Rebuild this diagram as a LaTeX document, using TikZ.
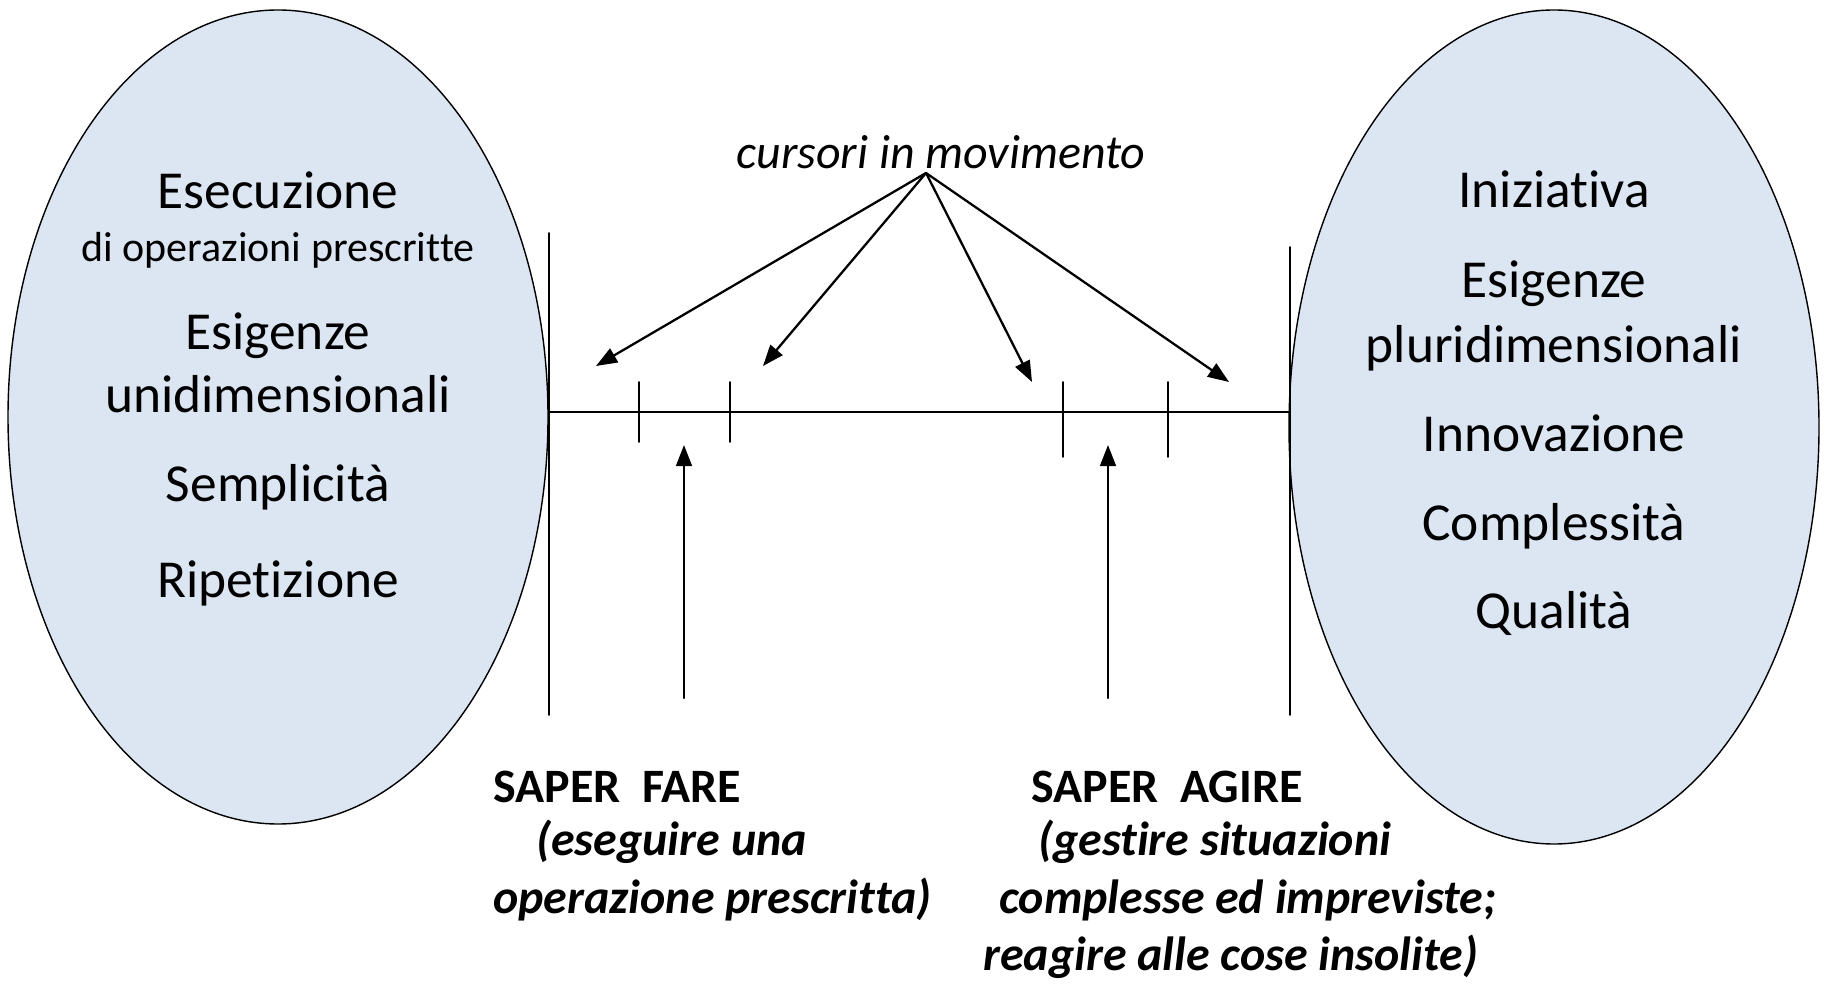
\documentclass[tikz,border=0pt]{standalone}
\usepackage{fontspec}
\setmainfont[Ligatures=NoCommon]{Carlito}
\usepackage{tkz-euclide}
\usetikzlibrary{arrows.meta,calc}
\definecolor{OvalClr}{RGB}{220,230,242}
\newcommand\ovalbig{\fontsize{30.4pt}{36pt}\selectfont}
\newcommand\ovalsmall{\fontsize{23.9pt}{28pt}\selectfont}
\newcommand\notesize{\fontsize{27.3pt}{33pt}\selectfont}

\begin{document}
\begin{tikzpicture}[x=0.02cm,y=0.02cm,
  ovaltxt/.style={anchor=base,inner sep=0pt,font=\ovalbig},
  ovalsub/.style={anchor=base,inner sep=0pt,font=\ovalsmall},
  sapertxt/.style={anchor=base west,inner sep=0pt,font=\notesize\bfseries},
  notetxt/.style={anchor=base west,inner sep=0pt,font=\notesize\bfseries\itshape}]
\useasboundingbox (0,0) rectangle (1825,984);
\tkzSetUpLine[line width=1pt,color=black]

% the two poles
\filldraw[fill=OvalClr,line width=0.8pt] (278,567) ellipse [x radius=270,y radius=407];
\filldraw[fill=OvalClr,line width=0.8pt] (1554,557) ellipse [x radius=265,y radius=417];

\tkzDefPoints{549/572/L,1290/572/R,549/751/La,549/269/Lb,1290/737/Ra,1290/269/Rb}
\tkzDefPoints{639/602/F1,639/542/F1b,730/602/F2,730/542/F2b}
\tkzDefPoints{1063/602/G1,1063/527/G1b,1168/602/G2,1168/527/G2b}
\tkzDefPoints{926/811/S,596/618/C1,763/618/C2,1032/602/C3,1229/602/C4}
\tkzDefPoints{684/286/P,684/539/Pt,1108/286/Q,1108/539/Qt}

\tkzDrawSegments(La,Lb Ra,Rb L,R)
\tkzDrawSegments(F1,F1b F2,F2b G1,G1b G2,G2b)

\tkzDrawSegments[line width=1.3pt,-{Triangle[length=12pt,width=9pt]}](S,C1 S,C2 S,C3 S,C4)
\tkzDrawSegments[line width=1.3pt,-{Triangle[length=12pt,width=9pt]}](P,Pt Q,Qt)

\node[anchor=base,inner sep=0pt,font=\notesize\itshape] (cur) at (941,815) {cursori in movimento};

% left oval
\node[ovaltxt] (ese) at (278,775) {Esecuzione};
\node[ovalsub] (ope) at (278,722) {di operazioni prescritte};
\node[ovaltxt] (esiL) at (278,634) {Esigenze};
\node[ovaltxt] (uni) at (278,571) {unidimensionali};
\node[ovaltxt] (sem) at (278,482) {Semplicità};
\node[ovaltxt] (rip) at (278,386) {Ripetizione};

% right oval
\node[ovaltxt] (ini) at (1554,776) {Iniziativa};
\node[ovaltxt] (esiR) at (1554,686) {Esigenze};
\node[ovaltxt] (plu) at (1554,621) {pluridimensionali};
\node[ovaltxt] (inn) at (1554,532) {Innovazione};
\node[ovaltxt] (com) at (1554,443) {Complessità};
\node[ovaltxt] (qua) at (1554,355) {Qualità};

% labels under the scale
\node[sapertxt] (fare) at (493,182) {SAPER~~FARE};
\node[notetxt] (fareA) at (536,129) {(eseguire una};
\node[notetxt] (fareB) at (493,71) {operazione prescritta)};
\node[sapertxt] (agire) at (1031,182) {SAPER~~AGIRE};
\node[notetxt] (agireA) at (1038,129) {(gestire situazioni};
\node[notetxt] (agireB) at (999,71) {complesse ed impreviste;};
\node[notetxt] (agireC) at (983,14) {reagire alle cose insolite)};

\end{tikzpicture}
\end{document}
